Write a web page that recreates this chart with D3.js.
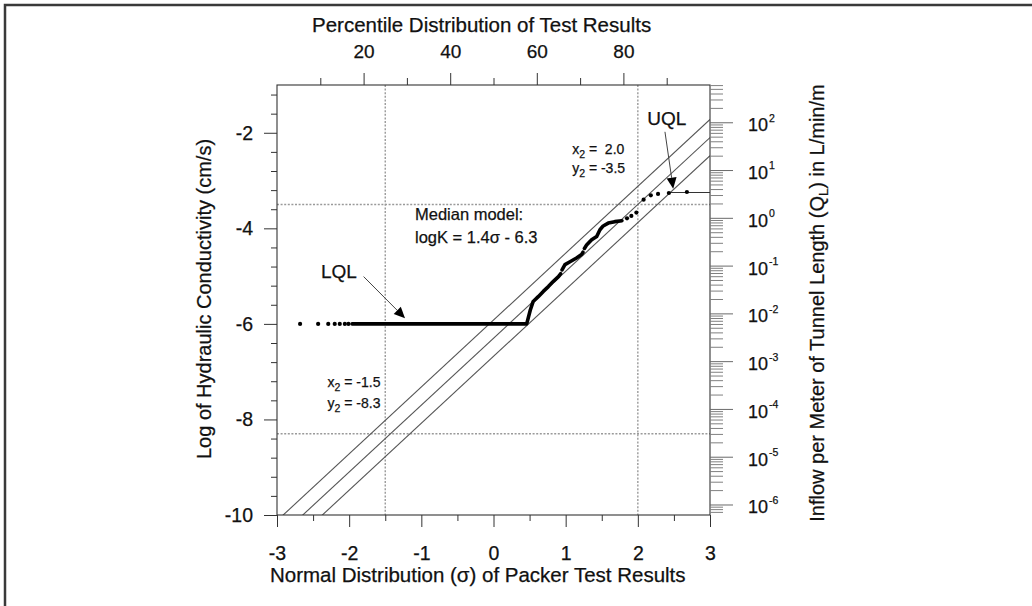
<!DOCTYPE html>
<html><head><meta charset="utf-8">
<script src="https://cdn.jsdelivr.net/npm/d3@7"></script>
<style>
body{margin:0;background:#fff}
svg{display:block}
text{font-family:"Liberation Sans",Arial,Helvetica,sans-serif;fill:#111;stroke:#111;stroke-width:0.25px}
</style>
</head><body>
<svg id="chart" width="1032" height="606"></svg>
<script>
// ---------------- data ----------------
const sigmaTicks = [-3, -2, -1, 0, 1, 2, 3];
const sigmaMinorTicks = [-2.5, -1.5, -0.5, 0.5, 1.5, 2.5];
const logKTicks = [-10, -8, -6, -4, -2];
const logKMinorTicks = d3.range(0, 23).map(i => -10 + i * 0.4);
const percentileTicks = [20, 40, 60, 80];
const percentileMinorTicks = [10, 30, 50, 70, 90];
const qDecades = [-6, -5, -4, -3, -2, -1, 0, 1, 2];
const logQOffset = 3.78;            // log10(Q_L) = logK + offset
const modelSlope = 1.4;
const modelIntercepts = [-5.92, -6.3, -6.68];   // upper, median, lower
const refSigma = [-1.5, 2.0];
const refLogK = [-3.5, -8.3];
const uqlLevel = -3.25;

// scattered test results (dots)
const dotSigma = [-2.68, -2.43, -2.29, -2.20, -2.13, -2.06, -2.01,
                  1.85, 1.91, 1.98, 2.08, 2.18, 2.28, 2.43, 2.68];
const dotLogK  = [-6, -6, -6, -6, -6, -6, -6,
                  -3.79, -3.74, -3.67, -3.40, -3.31, -3.28, -3.26, -3.24];

// densely packed test results (drawn as a continuous heavy trace)
const curveSigma = [-1.96, 0.46, 0.51, 0.55, 0.62, 0.69, 0.76, 0.83, 0.90, 0.93,
                    null, 0.95, 0.99, 1.06, 1.15, 1.22, 1.24,
                    null, 1.26, 1.29, 1.36, 1.43, 1.475, 1.52, 1.59, 1.68, 1.78];
const curveLogK  = [-6, -6, -5.71, -5.53, -5.43, -5.32, -5.22, -5.11, -5.01, -4.95,
                    null, -4.87, -4.76, -4.70, -4.62, -4.55, -4.50,
                    null, -4.42, -4.35, -4.24, -4.17, -4.03, -3.95, -3.89, -3.86, -3.84];

// ---------------- layout ----------------
const svg = d3.select("#chart");
const x = d3.scaleLinear().domain([-3, 3]).range([277, 710]);
const y = d3.scaleLinear().domain([-10, -1]).range([515, 85]);
const pct = d3.scaleLinear().domain([0, 100]).range([277, 710]);
const q = d3.scaleLog().domain([Math.pow(10, -10 + logQOffset), Math.pow(10, -1 + logQOffset)]).range([515, 85]);
const L = x.range()[0], R = x.range()[1], T = y.range()[1], B = y.range()[0];
const fmt = d => String(d);

// outer frame
svg.append("rect").attr("x", 5).attr("y", 5).attr("width", 1060).attr("height", 640)
  .attr("fill", "none").attr("stroke", "#3a3a3a").attr("stroke-width", 2.5);

svg.append("clipPath").attr("id", "plotclip").append("rect")
  .attr("x", L).attr("y", T).attr("width", R - L).attr("height", B - T);

const plot = svg.append("g").attr("clip-path", "url(#plotclip)");

// dotted reference lines
refSigma.forEach(s => plot.append("line")
  .attr("x1", x(s)).attr("x2", x(s)).attr("y1", T).attr("y2", B)
  .attr("stroke", "#9a9a9a").attr("stroke-width", 1.4).attr("stroke-dasharray", "2,1.6"));
refLogK.forEach(k => plot.append("line")
  .attr("x1", L).attr("x2", R).attr("y1", y(k)).attr("y2", y(k))
  .attr("stroke", "#9a9a9a").attr("stroke-width", 1.4).attr("stroke-dasharray", "2,1.6"));

// model lines
modelIntercepts.forEach(c => plot.append("line")
  .attr("x1", x(-3)).attr("y1", y(modelSlope * -3 + c))
  .attr("x2", x(3)).attr("y2", y(modelSlope * 3 + c))
  .attr("stroke", "#555").attr("stroke-width", 1.1));

// UQL level line
plot.append("line").attr("x1", x(2.45)).attr("x2", x(3)).attr("y1", y(uqlLevel)).attr("y2", y(uqlLevel))
  .attr("stroke", "#333").attr("stroke-width", 1.1);

// heavy trace
const curve = curveSigma.map((s, i) => [s, curveLogK[i]]);
plot.append("path").datum(curve)
  .attr("d", d3.line().defined(d => d[0] !== null).x(d => x(d[0])).y(d => y(d[1])))
  .attr("fill", "none").attr("stroke", "#000").attr("stroke-width", 3.6)
  .attr("stroke-linejoin", "round").attr("stroke-linecap", "round");

// dots
plot.selectAll("circle.dot").data(dotSigma.map((s, i) => [s, dotLogK[i]])).enter()
  .append("circle").attr("class", "dot")
  .attr("cx", d => x(d[0])).attr("cy", d => y(d[1])).attr("r", 2.1).attr("fill", "#000");

// ---------------- axes ----------------
function styleAxis(g, col) {
  g.select(".domain").remove();
  g.selectAll(".tick line").attr("stroke", col || "#333").attr("stroke-width", 1);
  g.selectAll(".tick text").attr("fill", "#111").style("font-family", '"Liberation Sans",Arial,sans-serif');
}
// frame lines
svg.append("rect").attr("x", L).attr("y", T).attr("width", R - L).attr("height", B - T)
  .attr("fill", "none").attr("stroke", "#333").attr("stroke-width", 1.1);

// bottom
svg.append("g").attr("transform", `translate(0,${B})`)
  .call(d3.axisBottom(x).tickValues(sigmaTicks).tickSize(12).tickPadding(19).tickFormat(fmt))
  .call(g => { styleAxis(g); g.selectAll("text").style("font-size", "19.5px"); });
svg.append("g").attr("transform", `translate(0,${B})`)
  .call(d3.axisBottom(x).tickValues(sigmaMinorTicks).tickSize(6).tickFormat(""))
  .call(g => styleAxis(g));

// left
svg.append("g").attr("transform", `translate(${L},0)`)
  .call(d3.axisLeft(y).tickValues(logKTicks).tickSize(13).tickPadding(11).tickFormat(fmt))
  .call(g => { styleAxis(g); g.selectAll("text").style("font-size", "19.5px"); });
svg.append("g").attr("transform", `translate(${L},0)`)
  .call(d3.axisLeft(y).tickValues(logKMinorTicks.filter(v => logKTicks.indexOf(Math.round(v * 10) / 10) < 0)).tickSize(6).tickFormat(""))
  .call(g => styleAxis(g));

// top (percentile)
svg.append("g").attr("transform", `translate(0,${T})`)
  .call(d3.axisTop(pct).tickValues(percentileTicks).tickSize(12).tickPadding(15).tickFormat(fmt))
  .call(g => { styleAxis(g); g.selectAll("text").style("font-size", "19px"); });
svg.append("g").attr("transform", `translate(0,${T})`)
  .call(d3.axisTop(pct).tickValues(percentileMinorTicks).tickSize(7).tickFormat(""))
  .call(g => styleAxis(g));

// right (log inflow)
const qMinor = [];
for (let k = -7; k <= 2; k++) for (let m = 2; m <= 9; m++) {
  const v = m * Math.pow(10, k);
  if (v >= q.domain()[0] && v <= q.domain()[1]) qMinor.push(v);
}
const qMajor = qDecades.map(k => Math.pow(10, k));
svg.append("g").attr("transform", `translate(${R},0)`)
  .call(d3.axisRight(q).tickValues(qMinor).tickSize(13).tickFormat(""))
  .call(g => styleAxis(g, "#808080"));
svg.append("g").attr("transform", `translate(${R},0)`)
  .call(d3.axisRight(q).tickValues(qMajor).tickSize(23).tickFormat(""))
  .call(g => styleAxis(g, "#6a6a6a"));
const rl = svg.append("g");
qDecades.forEach(k => {
  const t = rl.append("text").attr("x", 748).attr("y", q(Math.pow(10, k)) + 8.9).style("font-size", "18px");
  t.append("tspan").text("10");
  t.append("tspan").attr("dx", 1).attr("dy", -9.5).style("font-size", "10.5px").text(String(k));
});

// ---------------- titles ----------------
svg.append("text").attr("x", 270).attr("y", 582).style("font-size", "20.5px")
  .text("Normal Distribution (σ) of Packer Test Results");
svg.append("text").attr("x", 312).attr("y", 32).style("font-size", "20.5px")
  .text("Percentile Distribution of Test Results");
svg.append("text").attr("transform", "translate(211,299) rotate(-90)").attr("text-anchor", "middle")
  .style("font-size", "20px").text("Log of Hydraulic Conductivity (cm/s)");
const rt = svg.append("text").attr("transform", "translate(824,303) rotate(-90)").attr("text-anchor", "middle")
  .style("font-size", "20px");
rt.append("tspan").text("Inflow per Meter of Tunnel Length (Q");
rt.append("tspan").attr("dy", 4).style("font-size", "13px").text("L");
rt.append("tspan").attr("dy", -4).text(") in L/min/m");

// ---------------- annotations ----------------
function sub(textSel, base, s, rest) {
  textSel.append("tspan").text(base);
  textSel.append("tspan").attr("dy", 4).style("font-size", "10.5px").text(s);
  textSel.append("tspan").attr("dy", -4).text(rest);
}
const ann = svg.append("g").style("font-size", "14px");
sub(ann.append("text").attr("x", x(1.09)).attr("y", y(-2.44)).attr("xml:space", "preserve"), "x", "2", " =  2.0");
sub(ann.append("text").attr("x", x(1.09)).attr("y", y(-2.84)).attr("xml:space", "preserve"), "y", "2", " = -3.5");
sub(ann.append("text").attr("x", x(-2.30)).attr("y", y(-7.33)), "x", "2", " = -1.5");
sub(ann.append("text").attr("x", x(-2.30)).attr("y", y(-7.77)), "y", "2", " = -8.3");

svg.append("text").attr("x", x(-1.088)).attr("y", y(-3.82)).style("font-size", "16.5px").text("Median model:");
svg.append("text").attr("x", x(-1.088)).attr("y", y(-4.30)).style("font-size", "16.5px").text("logK = 1.4σ - 6.3");

svg.append("text").attr("x", x(-2.39)).attr("y", y(-5.04)).style("font-size", "19px").text("LQL");
svg.append("text").attr("x", x(2.13)).attr("y", y(-1.83)).style("font-size", "19px").text("UQL");

function arrow(s0, k0, s1, k1) {
  const x0 = x(s0), y0 = y(k0), x1 = x(s1), y1 = y(k1);
  const a = Math.atan2(y1 - y0, x1 - x0), len = 11, hw = 5;
  const bx = x1 - len * Math.cos(a), by = y1 - len * Math.sin(a);
  svg.append("line").attr("x1", x0).attr("y1", y0).attr("x2", bx).attr("y2", by)
    .attr("stroke", "#444").attr("stroke-width", 1);
  svg.append("polygon").attr("points", [
    [x1, y1],
    [bx + hw * Math.sin(a), by - hw * Math.cos(a)],
    [bx - hw * Math.sin(a), by + hw * Math.cos(a)]].map(p => p.join(",")).join(" "))
    .attr("fill", "#000");
}
arrow(-1.80, -5.01, -1.226, -5.88);
arrow(2.376, -1.98, 2.49, -3.17);
</script>
</body></html>
